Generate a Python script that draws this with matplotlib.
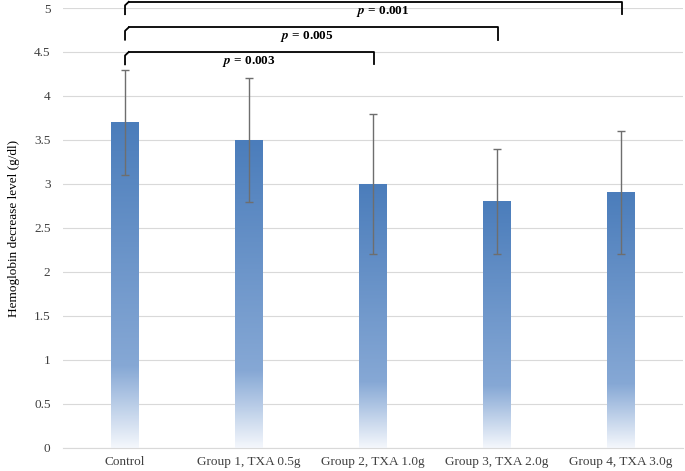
import matplotlib.pyplot as plt
import numpy as np
from matplotlib.colors import LinearSegmentedColormap

# Data
groups = ['Control', 'Group 1, TXA 0.5g', 'Group 2, TXA 1.0g',
          'Group 3, TXA 2.0g', 'Group 4, TXA 3.0g']
means = [3.7, 3.5, 3.0, 2.8, 2.9]
sds = [0.6, 0.7, 0.8, 0.6, 0.7]

# Significance comparisons: Control vs group index, p label
comp_to = [2, 3, 4]
comp_p = ['0.003', '0.005', '0.001']

plt.rcParams['font.family'] = ['Liberation Serif', 'DejaVu Serif']
plt.rcParams['mathtext.fontset'] = 'stix'

fig = plt.figure(figsize=(6.85, 4.71), dpi=100)
ax = fig.add_axes([0.092, 0.049, 0.905, 0.934])

x = np.arange(len(groups))
width = 0.22

# Gradient fill: dark blue top, fading to white at the bottom
cmap = LinearSegmentedColormap.from_list(
    'bar', [(0.0, '#f4f7fc'), (0.25, '#86a8d5'), (1.0, '#4b7dbb')])
grad = np.linspace(0, 1, 256).reshape(-1, 1)

bars = ax.bar(x, means, width, color='none', edgecolor='none', zorder=2)
for b in bars:
    x0 = b.get_x()
    h = b.get_height()
    ax.imshow(grad, extent=[x0, x0 + b.get_width(), 0, h], origin='lower',
              cmap=cmap, aspect='auto', zorder=2)

ax.errorbar(x, means, yerr=sds, fmt='none', ecolor='#6e6e6e',
            elinewidth=1.0, capsize=3, capthick=1.0, zorder=3)

ax.set_xlim(-0.5, len(groups) - 0.5)
ax.set_ylim(0, 5)
ax.set_yticks(np.arange(0, 5.01, 0.5))
ax.set_yticklabels(['0', '0.5', '1', '1.5', '2', '2.5', '3', '3.5', '4', '4.5', '5'])
ax.set_xticks(x)
ax.set_xticklabels(groups)
ax.tick_params(length=0, labelsize=9.5, colors='#404040')
ax.tick_params(axis='y', pad=9)
ax.tick_params(axis='x', pad=6)
ax.yaxis.grid(True, color='#d9d9d9', linewidth=0.8)
ax.set_axisbelow(True)
for s in ['top', 'right', 'left']:
    ax.spines[s].set_visible(False)
ax.spines['bottom'].set_color('#d9d9d9')
ax.set_ylabel('Hemoglobin decrease level (g/dl)', fontsize=9.5)
ax.yaxis.set_label_coords(-0.07, 0.5)

# Brackets
bracket_y = [4.5, 4.78, 5.07]
text_x = [1.0, 1.47, 2.08]
drop = 0.14
for end, p, yb, tx in zip(comp_to, comp_p, bracket_y, text_x):
    x_left = 0.0
    x_right = end + 0.01
    ax.plot([x_left, x_left, x_left + 0.03], [yb - drop, yb - 0.04, yb],
            color='black', linewidth=1.3, clip_on=False, zorder=4,
            solid_joinstyle='round')
    ax.plot([x_left + 0.03, x_right, x_right], [yb, yb, yb - drop],
            color='black', linewidth=1.3, clip_on=False, zorder=4)
    ax.text(tx, yb - 0.02, r'$\mathbfit{p}$ = ' + p, ha='center', va='top',
            fontsize=9.5, fontweight='bold', clip_on=False, zorder=4)

fig.savefig('out.png', dpi=100)
